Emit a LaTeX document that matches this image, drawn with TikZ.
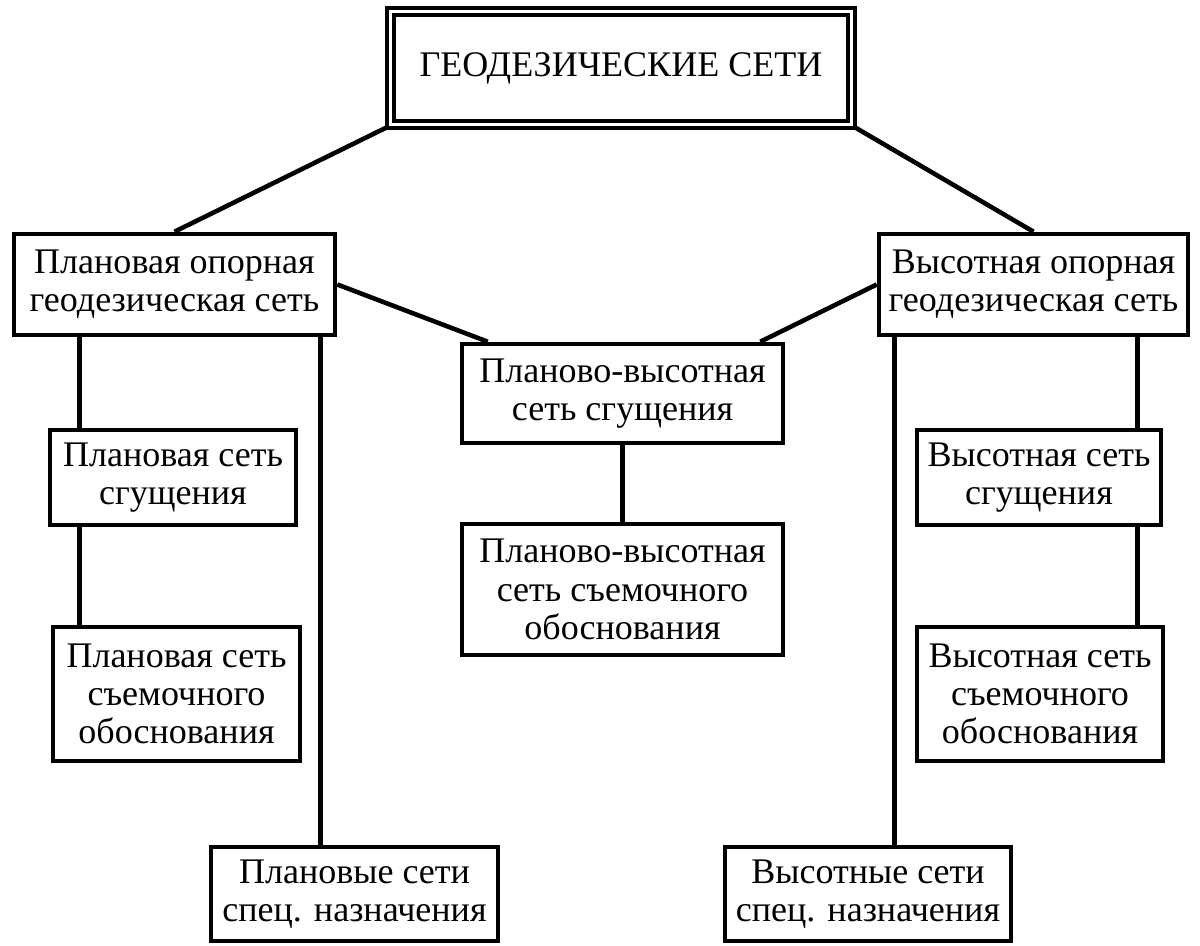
\documentclass[tikz,border=0pt]{standalone}
\usepackage{fontspec}
\setmainfont{Liberation Serif}
\begin{document}
\begin{tikzpicture}[line width=2.6pt,font=\fontsize{20.5}{21.8}\selectfont,
  box/.style={draw,line width=2.6pt,align=center,inner sep=0pt},
  mainbox/.style={draw,double,line width=2.3pt,double distance=1.3pt,inner sep=0pt}]
  \useasboundingbox (0,0) rectangle (24,-18.92);

  % 上层
  \node[mainbox,minimum width=9.22cm,minimum height=2.26cm] (top) at (12.42,-1.36) {ГЕОДЕЗИЧЕСКИЕ СЕТИ};
  \node[box,minimum width=6.42cm,minimum height=2.02cm] (opL) at (3.49,-5.69) {Плановая опорная\\геодезическая сеть};
  \node[box,minimum width=6.18cm,minimum height=2.02cm] (opR) at (20.67,-5.69) {Высотная опорная\\геодезическая сеть};

  % 中间
  \node[box,minimum width=6.42cm,minimum height=1.98cm] (cen1) at (12.45,-7.87) {Планово-высотная\\сеть сгущения};
  \node[box,minimum width=6.42cm,minimum height=2.62cm] (cen2) at (12.45,-11.79) {Планово-высотная\\сеть съемочного\\обоснования};

  % 左列
  \node[box,minimum width=4.92cm,minimum height=1.9cm] (sgL) at (3.46,-9.55) {Плановая сеть\\сгущения};
  \node[box,minimum width=4.94cm,minimum height=2.68cm] (syL) at (3.53,-13.88) {Плановая сеть\\съемочного\\обоснования};
  \node[box,minimum width=5.74cm,minimum height=1.88cm] (spL) at (7.09,-17.88) {Плановые сети\\спец. назначения};

  % 右列
  \node[box,minimum width=4.88cm,minimum height=1.9cm] (sgR) at (20.78,-9.55) {Высотная сеть\\сгущения};
  \node[box,minimum width=4.92cm,minimum height=2.68cm] (syR) at (20.80,-13.88) {Высотная сеть\\съемочного\\обоснования};
  \node[box,minimum width=5.72cm,minimum height=1.88cm] (spR) at (17.36,-17.88) {Высотные сети\\спец. назначения};

  % 连线
  \draw (top.south west) -- (opL.north);
  \draw (top.south east) -- (opR.north);
  \draw (opL.east) -- ([xshift=0.56cm]cen1.north west);
  \draw (opR.west) -- ([xshift=-0.5cm]cen1.north east);
  \draw (cen1.south) -- (cen2.north);

  \coordinate (l1) at ([xshift=0.64cm]sgL.north west);
  \coordinate (l2) at ([xshift=0.64cm]sgL.south west);
  \coordinate (l3) at ([xshift=-0.34cm]opL.south east);
  \draw (l1) -- (l1 |- opL.south);
  \draw (l2) -- (l2 |- syL.north);
  \draw (l3) -- (l3 |- spL.north);

  \coordinate (r1) at ([xshift=-0.52cm]sgR.north east);
  \coordinate (r2) at ([xshift=-0.52cm]sgR.south east);
  \coordinate (r3) at ([xshift=0.36cm]opR.south west);
  \draw (r1) -- (r1 |- opR.south);
  \draw (r2) -- (r2 |- syR.north);
  \draw (r3) -- (r3 |- spR.north);
\end{tikzpicture}
\end{document}
